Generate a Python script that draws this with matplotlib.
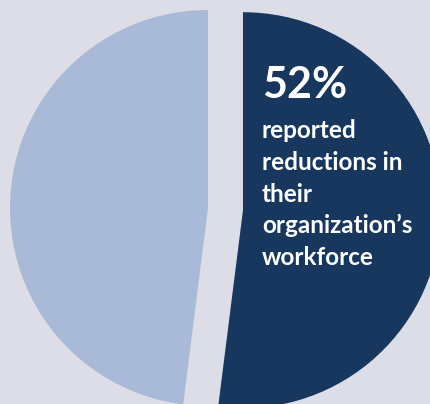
import matplotlib
matplotlib.use("Agg")
import matplotlib.pyplot as plt

categories = ["Reported reductions", "No reductions"]
values = [52, 48]
colors = ["#17375e", "#a9b9d8"]
explode = [0.177, 0.0]
headline = "52%"
body_lines = ["reported", "reductions in", "their", "organization\u2019s", "workforce"]

W, H = 431, 404
fig = plt.figure(figsize=(W / 100, H / 100), dpi=100)
bg = "#dcdde6"
fig.patch.set_facecolor(bg)
ax = fig.add_axes([0, 0, 1, 1])
ax.set_facecolor(bg)

R = 198.0
cx, cy = 208.0, 208.0
ax.pie(values, colors=colors, explode=explode, startangle=90, counterclock=False,
       radius=1.0, wedgeprops=dict(linewidth=0))
ax.set_aspect("auto")
ax.set_xlim(-cx / R, (W - cx) / R)
ax.set_ylim(-(H - cy) / R, cy / R)
ax.axis("off")

font = ["Lato", "DejaVu Sans"]
fig.text(262 / W, 1 - 98 / H, headline, color="white", fontsize=31, fontweight="bold",
         family=font, va="baseline", ha="left")
baselines = [138, 170, 202, 233, 265]
for line, yb in zip(body_lines, baselines):
    fig.text(262 / W, 1 - yb / H, line, color="white", fontsize=17.5, fontweight="bold",
             family=font, va="baseline", ha="left")

fig.savefig("out.png", dpi=100, facecolor=bg)
